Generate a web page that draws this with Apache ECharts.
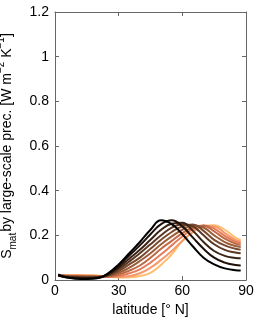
<!DOCTYPE html>
<html><head><meta charset="utf-8">
<script src="https://cdn.jsdelivr.net/npm/echarts@6/dist/echarts.min.js"></script>
<style>html,body{margin:0;padding:0;background:#fff}#c{width:257px;height:317px}</style>
</head><body><div id="c"></div>
<script>
var latitudes = [1.5,5,10,15,20,25,30,35,40,45,50,55,60,65,70,75,80,85,87.5];
var s1  = [0.025,0.012,0.006,0.005,0.008,0.030,0.070,0.120,0.170,0.225,0.267,0.250,0.205,0.150,0.100,0.070,0.052,0.044,0.042];
var s2  = [0.020,0.012,0.008,0.007,0.009,0.027,0.062,0.110,0.155,0.205,0.250,0.267,0.240,0.190,0.140,0.100,0.078,0.067,0.065];
var s3  = [0.020,0.014,0.010,0.009,0.010,0.024,0.055,0.095,0.135,0.180,0.225,0.252,0.256,0.220,0.170,0.130,0.108,0.099,0.097];
var s4  = [0.020,0.015,0.012,0.011,0.012,0.022,0.048,0.083,0.120,0.160,0.200,0.235,0.250,0.240,0.200,0.160,0.135,0.123,0.120];
var s5  = [0.020,0.016,0.014,0.013,0.013,0.020,0.040,0.070,0.100,0.140,0.180,0.215,0.240,0.248,0.220,0.180,0.155,0.140,0.136];
var s6  = [0.020,0.018,0.016,0.015,0.015,0.018,0.032,0.055,0.085,0.120,0.160,0.195,0.225,0.244,0.235,0.200,0.170,0.152,0.148];
var s7  = [0.020,0.019,0.018,0.017,0.016,0.016,0.025,0.042,0.065,0.100,0.140,0.175,0.210,0.235,0.243,0.218,0.185,0.163,0.158];
var s8  = [0.020,0.020,0.019,0.018,0.017,0.015,0.018,0.030,0.048,0.078,0.115,0.155,0.195,0.228,0.245,0.230,0.198,0.172,0.166];
var s9  = [0.020,0.021,0.020,0.020,0.018,0.014,0.013,0.018,0.030,0.055,0.090,0.130,0.175,0.215,0.242,0.240,0.210,0.180,0.173];
var s10 = [0.022,0.022,0.022,0.021,0.020,0.015,0.011,0.012,0.018,0.032,0.068,0.115,0.175,0.215,0.240,0.245,0.225,0.190,0.180];
var seriesValues = [s1,s2,s3,s4,s5,s6,s7,s8,s9,s10];
var colors = ['#000000','#1e0f08','#3c2415','#5c3822','#7a4a2e','#9c5e3a','#c06a44','#e57c5a','#f59a68','#ffbd70'];
var xTicks = [0,30,60,90];
var yTicks = [0,0.2,0.4,0.6,0.8,1,1.2];

var chart = echarts.init(document.getElementById('c'), null, {renderer:'canvas'});
var font = 'Liberation Sans, Arial, Helvetica, sans-serif';
var axisLineColor = '#666';
var series = seriesValues.map(function(v,i){
  return {
    type:'line', xAxisIndex:0, yAxisIndex:0, smooth:0.45, symbol:'none',
    lineStyle:{width:2, color:colors[i]},
    data: latitudes.map(function(x,j){return [x, v[j]];}),
    z: 10 - i
  };
});
function axisCommon(extra){
  var base = {
    axisLine:{show:true, onZero:false, lineStyle:{color:axisLineColor, width:1}},
    axisTick:{show:true, inside:true, length:4, lineStyle:{color:axisLineColor}},
    splitLine:{show:false}
  };
  for (var k in extra) base[k] = extra[k];
  return base;
}
chart.setOption({
  animation:false,
  grid:{left:55, right:11, top:12, bottom:37, containLabel:false, outerBoundsMode:'none'},
  xAxis:[axisCommon({
    type:'value', min:0, max:90, interval:30, position:'bottom',
    name:'latitude [° N]', nameLocation:'middle', nameGap:19,
    nameTextStyle:{fontFamily:font, fontSize:14, color:'#000'},
    axisLabel:{fontFamily:font, fontSize:14, color:'#000', margin:4,
      formatter:function(v){return xTicks.indexOf(v)>=0 ? String(v) : '';}}
  }), axisCommon({
    type:'value', min:0, max:90, interval:30, position:'top',
    axisLabel:{show:false}
  })],
  yAxis:[axisCommon({
    type:'value', min:0, max:1.2, interval:0.2, position:'left',
    name:'{b|S}{sub|mat}{b|by large-scale prec. [W m}{sup|−2}{b| K}{sup|−1}{b|]}',
    nameLocation:'middle', nameGap:36, nameRotate:90,
    nameTextStyle:{
      fontFamily:font, fontSize:14, color:'#000',
      rich:{
        b:{fontFamily:font, fontSize:14, color:'#000', lineHeight:22, verticalAlign:'middle'},
        sub:{fontFamily:font, fontSize:10, color:'#000', lineHeight:22, verticalAlign:'bottom', padding:[0,1,0,0]},
        sup:{fontFamily:font, fontSize:10, color:'#000', lineHeight:22, verticalAlign:'top'}
      }
    },
    axisLabel:{fontFamily:font, fontSize:14, color:'#000', margin:6,
      formatter:function(v){var r=Math.round(v*10)/10; return yTicks.indexOf(r)>=0 ? String(r) : '';}}
  }), axisCommon({
    type:'value', min:0, max:1.2, interval:0.2, position:'right',
    axisLabel:{show:false}
  })],
  series: series
});
</script>
</body></html>
